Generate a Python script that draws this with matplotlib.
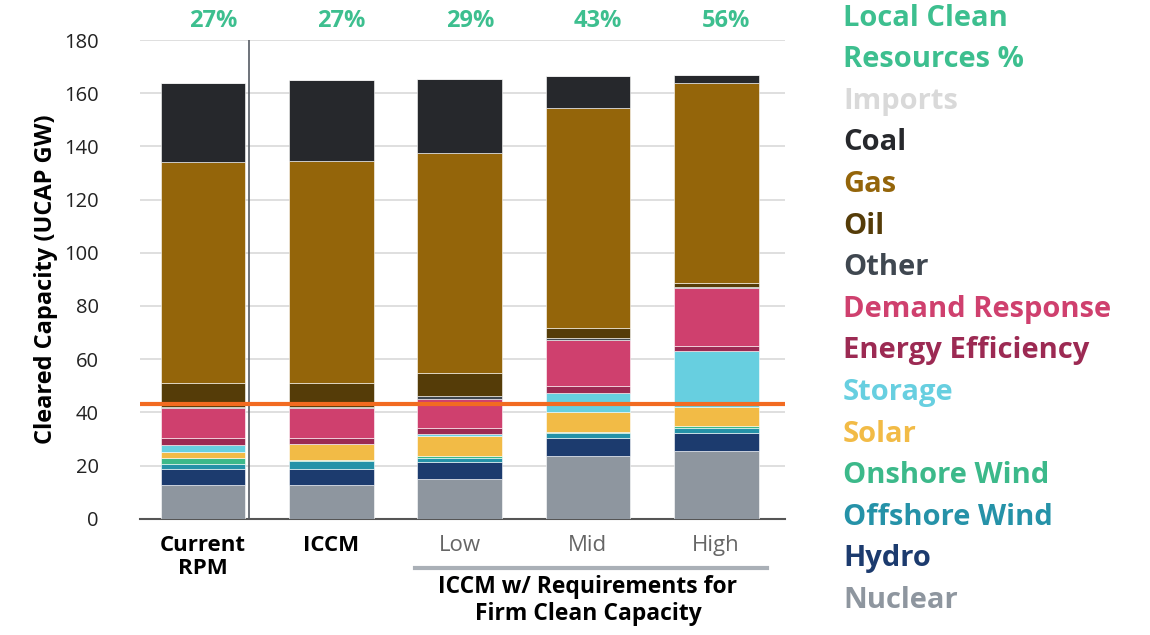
import matplotlib.pyplot as plt
import numpy as np

plt.rcParams['font.family'] = ['Open Sans', 'DejaVu Sans']

# scenarios
SCEN = ['Current\nRPM', 'ICCM', 'Low', 'Mid', 'High']
PCT = ['27%', '27%', '29%', '43%', '56%']

# stacked capacity by resource (UCAP GW), bottom -> top
NUCLEAR = [12.7, 12.7, 14.9, 23.7, 25.3]
HYDRO = [6.1, 6.0, 6.3, 6.6, 6.9]
OFFSHORE = [1.8, 3.0, 1.6, 1.9, 1.9]
ONSHORE = [2.1, 0.3, 0.9, 0.6, 0.9]
SOLAR = [2.4, 6.3, 7.5, 7.5, 7.0]
STORAGE = [2.8, 0.0, 0.6, 6.9, 20.9]
EE = [2.4, 2.2, 2.3, 2.8, 2.1]
DR = [11.3, 11.1, 10.9, 17.3, 21.7]
OTHER = [0.6, 0.6, 1.0, 0.6, 0.6]
OIL = [8.9, 8.8, 8.8, 3.8, 1.5]
GAS = [82.9, 83.6, 82.7, 82.7, 75.2]
COAL = [30.0, 30.2, 27.8, 12.1, 2.9]
IMPORTS = [0, 0, 0, 0, 0]

THRESHOLD = 43

SERIES = [
    ('Nuclear', NUCLEAR, '#8e969f'),
    ('Hydro', HYDRO, '#1c3b6e'),
    ('Offshore Wind', OFFSHORE, '#2592a8'),
    ('Onshore Wind', ONSHORE, '#3cb98a'),
    ('Solar', SOLAR, '#f2bb46'),
    ('Storage', STORAGE, '#67cfe0'),
    ('Energy Efficiency', EE, '#9c2a53'),
    ('Demand Response', DR, '#cf406e'),
    ('Other', OTHER, '#3f4750'),
    ('Oil', OIL, '#553c08'),
    ('Gas', GAS, '#94650a'),
    ('Coal', COAL, '#26282c'),
    ('Imports', IMPORTS, '#d9d9d9'),
]
GREEN = '#3dbf8f'

fig = plt.figure(figsize=(11.5, 6.35), dpi=100)
ax = fig.add_axes([0.122, 0.183, 0.561, 0.754])

x = np.arange(len(SCEN))
bottom = np.zeros(len(SCEN))
for name, vals, col in SERIES:
    vals = np.array(vals, dtype=float)
    ax.bar(x, vals, 0.66, bottom=bottom, color=col, edgecolor='white',
           linewidth=0.4, zorder=3)
    bottom += vals

ax.axhline(THRESHOLD, color='#f26b21', lw=3, zorder=5)
ax.axvline(0.36, color='#555b63', lw=1.2, zorder=4, ymax=1.0)

ax.set_ylim(0, 180)
ax.set_xlim(-0.49, 4.54)
ax.set_yticks(np.arange(0, 181, 20))
ax.yaxis.grid(True, color='#d9d9d9', lw=1.2, zorder=0)
ax.tick_params(axis='y', length=0, labelsize=14.5, pad=30, colors='#222222')
ax.tick_params(axis='x', length=0, pad=0)
ax.set_xticks([])
for s in ['top', 'right', 'left']:
    ax.spines[s].set_visible(False)
ax.spines['bottom'].set_color('#555555')
ax.spines['bottom'].set_linewidth(1.5)
ax.set_ylabel('Cleared Capacity (UCAP GW)', fontsize=17, fontweight='bold',
              labelpad=4)

# percent labels above bars
for i, p in enumerate(PCT):
    ax.text(x[i] + 0.08, 182.5, p, ha='center', va='bottom', fontsize=17,
            fontweight='bold', color=GREEN)

# category labels
for i, s in enumerate(SCEN):
    bold = i < 2
    ax.text(x[i], -6, s, ha='center', va='top', fontsize=16,
            fontweight='bold' if bold else 'normal',
            color='black' if bold else '#666666', linespacing=1.15)
ax.plot([1.65, 4.4], [-18.5, -18.5], color='#aab0b7', lw=3, clip_on=False)
ax.text(3.0, -21, 'ICCM w/ Requirements for\nFirm Clean Capacity',
        ha='center', va='top', fontsize=16.5, fontweight='bold', linespacing=1.2)

# text legend on the right
LEG = [('Local Clean', GREEN), ('Resources %', GREEN)]
for name, vals, col in reversed(SERIES):
    LEG.append((name, col))
for k, (name, col) in enumerate(LEG):
    fig.text(843 / 1150, 1 - (18 + 41.6 * k) / 635, name, ha='left',
             va='center', fontsize=21, fontweight='bold', color=col)

plt.savefig('out.png', dpi=100)
